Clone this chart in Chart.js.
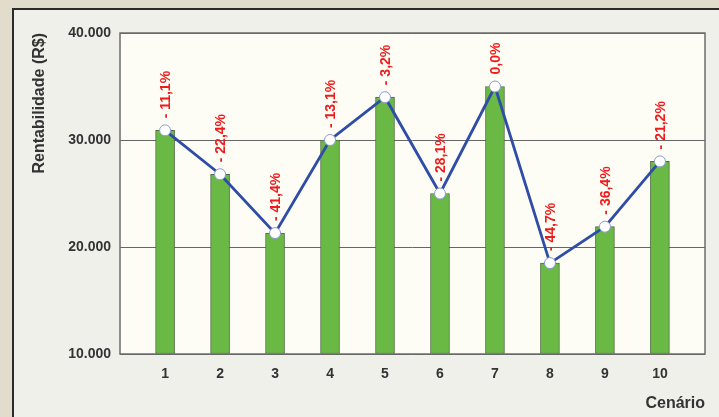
<!DOCTYPE html>
<html>
<head>
<meta charset="utf-8">
<script src="https://cdn.jsdelivr.net/npm/chart.js@4/dist/chart.umd.min.js"></script>
<style>
  html, body { margin: 0; padding: 0; background: #e2dccd; overflow: hidden; }
  #panel { position: absolute; left: 12px; top: 8px; right: 0; bottom: 0;
           background: #f0f0eb; border-left: 2px solid #2b2b2b; border-top: 2px solid #2b2b2b; }
  #grafico { position: absolute; left: 0; top: 0; }
</style>
</head>
<body>
<div id="panel"></div>
<canvas id="grafico" width="719" height="417"></canvas>
<script>
const cenarios = [1, 2, 3, 4, 5, 6, 7, 8, 9, 10];
const rentabilidade = [30900, 26800, 21300, 30000, 34000, 25000, 35000, 18500, 21900, 28000];
const variacao = ['- 11,1%', '- 22,4%', '- 41,4%', '- 13,1%', '- 3,2%', '- 28,1%', '0,0%', '- 44,7%', '- 36,4%', '- 21,2%'];
const yMin = 10000;
const yMax = 40000;

const fonte = "'Liberation Sans', Arial, sans-serif";

function milhar(v) {
    return String(v).replace(/\B(?=(\d{3})+(?!\d))/g, '.');
}

// fundo e moldura da área do gráfico
const moldura = {
    id: 'moldura',
    beforeDraw(chart) {
        const { ctx, chartArea: a } = chart;
        ctx.save();
        ctx.fillStyle = '#fdfdf5';
        ctx.fillRect(a.left, a.top, a.right - a.left, a.bottom - a.top);
        ctx.restore();
    },
    afterDraw(chart) {
        const { ctx, chartArea: a } = chart;
        ctx.save();
        ctx.strokeStyle = '#6b6b6b';
        ctx.lineWidth = 1.5;
        ctx.strokeRect(a.left, a.top, a.right - a.left, a.bottom - a.top);
        ctx.restore();
    }
};

// rótulos verticais em vermelho acima dos pontos
const rotulos = {
    id: 'rotulos',
    afterDatasetsDraw(chart) {
        const meta = chart.getDatasetMeta(0);
        const ctx = chart.ctx;
        ctx.save();
        ctx.font = 'bold 14px ' + fonte;
        ctx.fillStyle = '#ee1c1c';
        ctx.textAlign = 'left';
        ctx.textBaseline = 'middle';
        meta.data.forEach((pt, i) => {
            ctx.save();
            ctx.translate(pt.x + 1, pt.y - 12);
            ctx.rotate(-Math.PI / 2);
            ctx.fillText(variacao[i], 0, 0);
            ctx.restore();
        });
        ctx.restore();
    }
};

const ctx = document.getElementById('grafico').getContext('2d');

const grafico = new Chart(ctx, {
    data: {
        datasets: [
            {
                type: 'line',
                data: cenarios.map((c, i) => ({ x: c, y: rentabilidade[i] })),
                borderColor: '#2f4da6',
                borderWidth: 2.8,
                pointRadius: 5.5,
                pointBackgroundColor: '#ffffff',
                pointBorderColor: '#8e9bd3',
                pointBorderWidth: 1,
                tension: 0,
                order: 0
            },
            {
                type: 'bar',
                data: cenarios.map((c, i) => ({ x: c, y: rentabilidade[i] })),
                backgroundColor: '#69b944',
                borderColor: '#4d6e40',
                borderWidth: 1,
                borderSkipped: false,
                barThickness: 19,
                base: yMin,
                order: 1
            }
        ]
    },
    plugins: [moldura, rotulos],
    options: {
        responsive: false,
        animation: false,
        layout: { padding: { top: 33, right: 14, left: 0, bottom: 0 } },
        plugins: {
            legend: { display: false },
            tooltip: { enabled: false }
        },
        scales: {
            x: {
                type: 'linear',
                offset: false,
                min: 0.18,
                max: 10.82,
                afterBuildTicks(scale) {
                    scale.ticks = cenarios.map(c => ({ value: c }));
                },
                afterFit(scale) { scale.height = 63; },
                grid: { display: false, offset: false },
                border: { display: false },
                ticks: {
                    autoSkip: false,
                    padding: 4,
                    color: '#333333',
                    font: { family: fonte, size: 14, weight: 'bold' },
                    callback: v => String(v)
                },
                title: {
                    display: true,
                    text: 'Cenário',
                    align: 'end',
                    color: '#333333',
                    padding: { top: 4, bottom: 4 },
                    font: { family: fonte, size: 16, weight: 'bold' }
                }
            },
            y: {
                min: yMin,
                max: yMax,
                afterFit(scale) { scale.width = 120; },
                grid: { color: '#666666', lineWidth: 1, drawTicks: false },
                border: { display: false },
                ticks: {
                    stepSize: 10000,
                    padding: 9,
                    color: '#333333',
                    font: { family: fonte, size: 14, weight: 'bold' },
                    callback: v => milhar(v)
                },
                title: {
                    display: true,
                    text: 'Rentabilidade (R$)',
                    align: 'end',
                    color: '#333333',
                    padding: { top: 30, bottom: 0 },
                    font: { family: fonte, size: 16, weight: 'bold' }
                }
            }
        }
    }
});
</script>
</body>
</html>
